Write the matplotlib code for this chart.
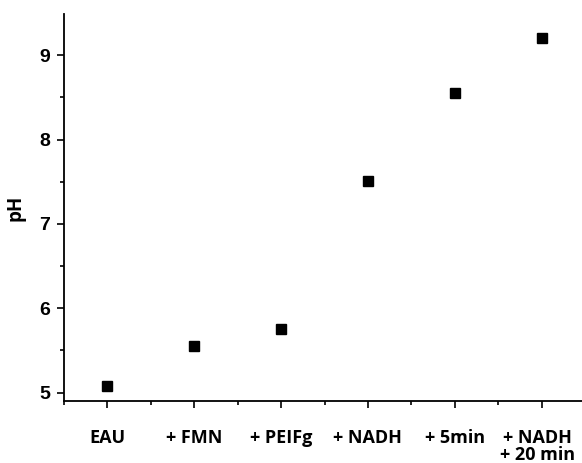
import matplotlib
matplotlib.use('Agg')
import matplotlib.pyplot as plt
import matplotlib.transforms as mtransforms
from matplotlib.ticker import MultipleLocator

# Données
etapes = ['EAU', '+ FMN', '+ PEIFg', '+ NADH', '+ 5min', '+ NADH\n+ 20 min']
ph = [5.08, 5.55, 5.75, 7.51, 8.55, 9.21]

fig = plt.figure(figsize=(5.82, 4.63), dpi=100)
ax = fig.add_axes([64 / 582, 62 / 463, 521 / 582, 387 / 463])

x = list(range(len(etapes)))
ax.plot(x, ph, 's', color='black', markersize=7.5, linestyle='none')

ax.set_xlim(-0.5, 5.5)
ax.set_ylim(4.9, 9.49)

ax.spines['top'].set_visible(False)
ax.spines['right'].set_visible(False)
for s in ['left', 'bottom']:
    ax.spines[s].set_linewidth(1.3)

ax.set_xticks(x)
ax.set_xticklabels(etapes, fontfamily='Open Sans', fontweight='bold', fontsize=13,
                   va='top', linespacing=0.95)
ax.xaxis.set_minor_locator(MultipleLocator(0.5))
ax.yaxis.set_major_locator(MultipleLocator(1))
ax.yaxis.set_minor_locator(MultipleLocator(0.5))
ax.tick_params(which='major', direction='out', length=5, width=1.2)
ax.tick_params(which='minor', direction='out', length=3, width=1.2)
ax.tick_params(axis='x', which='major', pad=15)
ax.tick_params(axis='y', which='major', pad=5)

for lab in ax.get_yticklabels():
    lab.set_fontfamily('Liberation Sans')
    lab.set_fontweight('bold')
    lab.set_fontsize(14)

# la dernière étiquette touche le bord droit : léger décalage vers la gauche
last = ax.get_xticklabels()[-1]
last.set_transform(last.get_transform() +
                   mtransforms.ScaledTranslation(-4 / 100, 0, fig.dpi_scale_trans))

ax.set_ylabel('pH', fontfamily='Open Sans', fontweight='bold', fontsize=13.5, labelpad=10)

fig.savefig('out.png', dpi=100)
